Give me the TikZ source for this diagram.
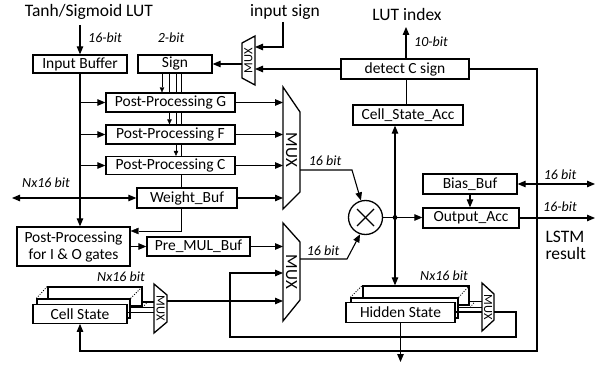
\documentclass[tikz,border=0pt]{standalone}
\usepackage{fontspec}
\setmainfont{Carlito}
\usetikzlibrary{arrows.meta,calc,backgrounds}
\begin{document}
\begin{tikzpicture}[x=1pt,y=-1pt,
  line width=1.1pt,
  box/.style={draw,fill=white,line width=1.3pt,inner sep=0pt,font=\fontsize{15.5}{17}\selectfont,align=center},
  stackbox/.style={draw,fill=white,line width=1.3pt,inner sep=0pt},
  lbl/.style={font=\fontsize{17.5}{17}\selectfont,inner sep=0pt,align=left},
  bits/.style={font=\fontsize{14}{14}\selectfont\itshape,inner sep=0pt},
  muxtext/.style={font=\fontsize{17}{17}\selectfont,inner sep=0pt},
  smux/.style={font=\fontsize{12.5}{12}\selectfont,inner sep=0pt},
  arr/.style={-{Triangle[length=8pt,width=6.5pt]}},
  darr/.style={{Triangle[length=8pt,width=6.5pt]}-{Triangle[length=8pt,width=6.5pt]}},
  sarr/.style={-{Triangle[length=5pt,width=4.5pt]}},
  muxshape/.style={draw,fill=white,line width=1.3pt},
  dotl/.style={line width=0.8pt,dash pattern=on 1pt off 1.5pt},
]
\useasboundingbox (0,0) rectangle (608,369);

% ---------- boxes ----------
\node[box,minimum width=94pt,minimum height=18pt] (inbuf) at (80,64) {Input Buffer};
\node[box,minimum width=74pt,minimum height=18pt] (sign) at (175,64) {Sign};
\node[box,minimum width=129pt,minimum height=19pt] (ppg) at (170.5,102.5) {Post-Processing G};
\node[box,minimum width=129pt,minimum height=19pt] (ppf) at (170.5,134.5) {Post-Processing F};
\node[box,minimum width=129pt,minimum height=18pt] (ppc) at (170.5,165.5) {Post-Processing C};
\node[box,minimum width=100pt,minimum height=20pt] (wbuf) at (187,198) {Weight\_Buf};
\node[box,minimum width=113pt,minimum height=39pt] (ppio) at (73.5,246.5) {Post-Processing\\for I \& O gates};
\node[box,minimum width=103pt,minimum height=19pt] (premul) at (198.5,246.5) {Pre\_MUL\_Buf};
\node[box,minimum width=128pt,minimum height=20pt] (detc) at (405,69) {detect C sign};
\node[box,minimum width=110pt,minimum height=20pt] (csacc) at (408,115) {Cell\_State\_Acc};
\node[box,minimum width=94pt,minimum height=20pt] (bias) at (470,184) {Bias\_Buf};
\node[box,minimum width=96pt,minimum height=20pt] (oacc) at (471,218) {Output\_Acc};
\node[circle,draw,fill=white,line width=1.3pt,minimum size=34pt,inner sep=0pt] (mult) at (365.5,217.5) {};
\draw[line width=1.4pt] ($(mult.center)+(-8.5,-8.5)$) -- ($(mult.center)+(8.5,8.5)$);
\draw[line width=1.4pt] ($(mult.center)+(-8.5,8.5)$) -- ($(mult.center)+(8.5,-8.5)$);

% ---------- cell state stack ----------
\node[stackbox,minimum width=94pt,minimum height=19pt] (csback) at (95,296.5) {};
\node[stackbox,minimum width=93pt,minimum height=19pt] (csmid) at (83.5,308.5) {};
\draw[dotl] (csmid.north west) -- (csback.north west);
\draw[dotl] (csmid.north east) -- (csback.north east);
\node[box,minimum width=94pt,minimum height=18.5pt] (cs) at (80,314) {Cell State};

% ---------- hidden state stack ----------
\node[stackbox,minimum width=106pt,minimum height=19pt] (hsback) at (416,295.5) {};
\node[stackbox,minimum width=107pt,minimum height=20pt] (hsmid) at (404.5,308) {};
\draw[dotl] (hsmid.north west) -- (hsback.north west);
\draw[dotl] (hsmid.north east) -- (hsback.north east);
\node[box,minimum width=109pt,minimum height=19.5pt] (hs) at (400.5,312.5) {Hidden State};

% ---------- muxes ----------
\draw[muxshape] (283,87) -- (300,112) -- (300,192) -- (283,209) -- cycle;
\node[muxtext,rotate=-90] (muxa) at (291.5,150) {MUX};
\draw[muxshape] (283,223) -- (300,242) -- (300,300) -- (283,321) -- cycle;
\node[muxtext,rotate=-90] (muxb) at (291.5,272) {MUX};
\draw[muxshape] (255,36) -- (255,85) -- (242,78) -- (242,43) -- cycle;
\node[smux,rotate=90] (muxs) at (248.5,61) {MUX};
\draw[muxshape] (154,284) -- (167,295) -- (167,322) -- (154,333) -- cycle;
\node[smux,rotate=-90] (muxc) at (160.5,308.5) {MUX};
\draw[muxshape] (482,283) -- (494,294) -- (494,320) -- (482,331) -- cycle;
\node[smux,rotate=-90] (muxh) at (488,307) {MUX};

% ---------- texts ----------
\node[lbl] (tanh) at (89,12) {Tanh/Sigmoid LUT};
\node[lbl] (insign) at (285,12) {input sign};
\node[lbl] (lutidx) at (407,14) {LUT index};
\node[lbl,anchor=west] (lstm) at (545,245.5) {LSTM\\result};
\node[bits] (b16a) at (105,38) {16-bit};
\node[bits] (b2) at (171,38) {2-bit};
\node[bits] (b10) at (431,42) {10-bit};
\node[bits] (bnx) at (46,183) {Nx16 bit};
\node[bits] (b16b) at (325,161) {16 bit};
\node[bits] (b16c) at (323,251) {16 bit};
\node[bits] (b16d) at (560,175) {16 bit};
\node[bits] (b16e) at (560,207) {16-bit};
\node[bits] (bnxc) at (121,277) {Nx16 bit};
\node[bits] (bnxh) at (444,276) {Nx16 bit};

% ---------- coordinates ----------
\coordinate (tanhs) at (80,25);
\coordinate (insb) at (283,22);
\coordinate (lutb) at (406,27);
\coordinate (nxl) at (12,198);
\coordinate (biasr) at (595,184);
\coordinate (oaccr) at (595,218);
\coordinate (jn) at (395,217.5);
\coordinate (hsout) at (400.5,362);

% ---------- connectors ----------
\begin{scope}[on background layer]
\draw[sarr] (162,0 |- sign.south) -- (162,0 |- ppg.north);
\draw[sarr] (169.5,0 |- sign.south) -- (169.5,0 |- ppf.north);
\draw[sarr] (176,0 |- sign.south) -- (176,0 |- ppc.north);
\draw[arr] (181.5,0 |- sign.south) -- (181.5,231) -- (ppio.east |- 0,231);
\draw (406,0 |- detc.south) -- (406,0 |- csacc.north);
\end{scope}

\draw[arr] (tanhs) -- (inbuf.north);
\draw[arr] (inbuf.south) -- (inbuf.south |- ppio.north);
\draw[arr] (80,0 |- ppg.west) -- (ppg.west);
\draw[arr] (80,0 |- ppf.west) -- (ppf.west);
\draw[arr] (80,0 |- ppc.west) -- (ppc.west);
\draw[darr] (nxl) -- (wbuf.west);

\draw[arr] (ppg.east) -- (283,0 |- ppg.east);
\draw[arr] (ppf.east) -- (283,0 |- ppf.east);
\draw[arr] (ppc.east) -- (283,0 |- ppc.east);
\draw[arr] (wbuf.east) -- (283,0 |- wbuf.east);
\draw[arr] (ppio.east |- premul.west) -- (premul.west);
\draw[arr] (premul.east) -- (283,0 |- premul.east);

% sign mux
\draw[arr] (insb) -- (283,47) -- (255,47);
\draw[arr] (detc.west) -- (255,0 |- detc.west);
\draw[arr] (242,64) -- (sign.east);
\draw[arr] (detc.north -| lutb) -- (lutb);

% mux outputs to multiplier
\draw[arr] (300,170) -- (352,170) -- (mult.105);
\draw[arr] (300,259) -- (347,259) -- (mult.252);

% multiplier output
\draw (mult.east) -- (jn);
\draw[arr] (jn) -- (jn -| oacc.west);
\fill (jn) circle (2.4pt);
\draw[arr] (jn) -- (jn |- csacc.south);
\draw[arr] (jn) -- (jn |- hsback.north);
\draw[arr] (bias.south -| 470,0) -- (470,0 |- oacc.north);
\draw[darr] (bias.east) -- (biasr);
\draw[arr] (oacc.east) -- (oaccr);

% cell state stack to mux
\draw (csback.east |- 0,302) -- (154,302);
\draw (csmid.east |- 0,307.5) -- (154,307.5);
\draw (cs.east |- 0,312.5) -- (154,312.5);
\draw[dotl] (142.5,307.5) -- (147.5,302);
\draw[arr] (167,301) -- (283,301);

% hidden state stack to mux
\draw (hsback.east |- 0,301.5) -- (482,301.5);
\draw (hsmid.east |- 0,307.5) -- (482,307.5);
\draw (hs.east |- 0,312) -- (482,312);
\draw[dotl] (470,307.5) -- (475,301.5);

% hidden loop
\draw[arr] (494,312) -- (516,312) -- (516,337) -- (230,337) -- (230,273) -- (283,273);
% C sign loop to cell state
\draw[arr] (detc.east) -- (537,69) -- (537,351) -- (80,351) -- (cs.south);
% hidden state out
\draw[arr] (hs.south) -- (hsout);
\end{tikzpicture}
\end{document}
